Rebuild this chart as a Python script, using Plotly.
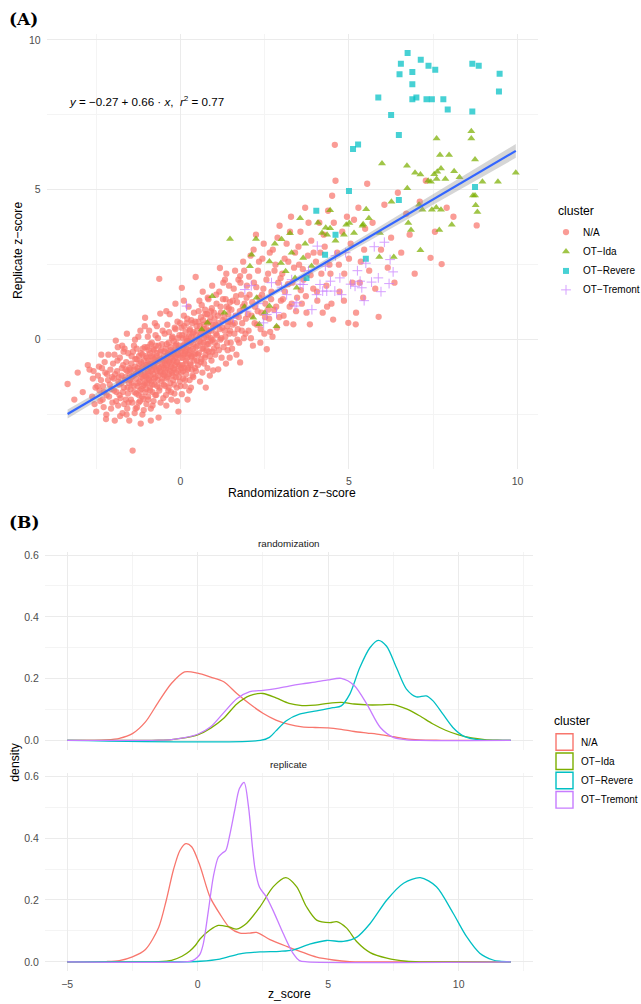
import numpy as np
import plotly.graph_objects as go

W, H = 641, 1004
def px(x): return x / W
def py(y): return 1 - y / H

FONT = "Liberation Sans"
clusters = ["N/A", "OT-Ida", "OT-Revere", "OT-Tremont"]
labels = ["N/A", "OT\u2212Ida", "OT\u2212Revere", "OT\u2212Tremont"]
colors = ["#F8766D", "#7CAE00", "#00BFC4", "#C77CFF"]
symbols = ["circle", "triangle-up", "square", "cross-thin"]

# ---------------- Panel A data (randomization z, replicate z) ----------------
na_points = [
    (-3.35,-1.48),(-3.05,-1.1),(-3.15,-2.0),
    (-2.75,-0.85),(-2.6,-1.3),(-2.9,-1.75),(-2.55,-2.15),(-2.7,-1.0),(-2.52,-1.6),
    (-2.45,-1.2),(-2.38,-2.05),(-2.3,-1.55),(-2.25,-0.75),(-2.2,-2.5),(-2.15,-1.35),(-2.12,-1.9),
    (-2.08,-1.0),(-2.4,-1.7),(-2.33,-0.95),(-2.05,-1.65),(-2.28,-2.25),(-2.18,-1.15),(-2.02,-2.1),
    (-1.98,-1.3),(-1.95,-2.7),(-1.92,-0.03),(-1.9,-1.75),(-1.88,-1.05),(-1.85,-2.2),(-1.82,-1.5),
    (-1.8,-0.6),(-1.78,-1.95),(-1.75,-1.2),(-1.72,-2.45),(-1.7,-0.85),(-1.68,-1.6),(-1.65,-1.35),
    (-1.62,-2.0),(-1.6,-2.5),(-1.59,0.2),(-1.58,-1.05),(-1.56,-1.8),(-1.55,-0.45),(-1.53,-1.45),
    (-1.52,-2.7),(-1.51,-1.15),(-1.66,-0.3),(-1.84,-1.4),
    (-1.49,-1.0),(-1.47,-2.0),(-1.45,-0.55),(-1.44,-1.45),(-1.42,-3.7),(-1.4,-1.2),(-1.38,-0.2),
    (-1.37,-1.75),(-1.35,-0.9),(-1.33,-2.3),(-1.32,-1.3),(-1.3,-0.65),(-1.29,-2.26),(-1.28,-1.55),
    (-1.26,-1.05),(-1.25,0.1),(-1.24,-1.85),(-1.22,-0.8),(-1.21,-1.4),(-1.2,-2.05),(-1.18,-0.45),
    (-1.17,-1.15),(-1.16,-1.65),(-1.15,-0.95),(-1.13,-2.5),(-1.12,-0.3),(-1.11,-1.3),(-1.1,-1.98),
    (-1.09,-0.7),(-1.08,-1.5),(-1.06,0.45),(-1.05,0.73),(-1.05,-1.1),(-1.04,-1.75),(-1.03,-0.55),
    (-1.02,-1.25),(-1.01,-2.15),(-1.0,-0.85),
    (-0.99,-1.45),(-0.98,-0.25),(-0.97,-1.05),(-0.96,-1.9),(-0.95,-0.7),(-0.94,-1.3),(-0.93,0.3),
    (-0.92,-0.95),(-0.91,-1.6),(-0.9,-0.45),(-0.89,-1.2),(-0.88,-2.3),(-0.87,-0.8),(-0.86,-1.4),
    (-0.85,-0.1),(-0.84,-1.0),(-0.83,-1.75),(-0.82,-0.6),(-0.81,-1.15),(-0.8,-2.05),(-0.79,-0.35),
    (-0.78,-0.9),(-0.77,-1.5),(-0.76,0.55),(-0.75,-0.75),(-0.74,-1.25),(-0.73,-0.2),(-0.72,-1.85),
    (-0.71,-0.55),(-0.7,-1.05),(-0.68,-1.35),(-0.67,0.05),(-0.66,-0.7),(-0.65,-2.6),(-0.64,-0.95),
    (-0.63,2.03),(-0.62,-1.6),(-0.61,-0.4),(-0.6,0.87),(-0.59,-1.1),(-0.58,-0.65),(-0.56,-1.4),
    (-0.55,-0.15),(-0.53,-0.85),(-0.51,-1.95),
    (-0.49,-0.55),(-0.48,-1.2),(-0.47,0.2),(-0.46,-0.8),(-0.45,-1.55),(-0.44,-0.3),(-0.43,-1.0),
    (-0.42,-2.2),(-0.41,-0.65),(-0.4,-1.3),(-0.39,0.5),(-0.38,-0.45),(-0.37,-0.95),(-0.36,-1.7),
    (-0.35,-0.1),(-0.34,-0.75),(-0.33,-1.15),(-0.32,0.85),(-0.31,-0.5),(-0.3,-1.45),(-0.29,-0.25),
    (-0.28,-0.9),(-0.27,-2.0),(-0.26,-0.6),(-0.25,-1.1),(-0.24,0.1),(-0.23,-0.4),(-0.22,-1.35),
    (-0.21,-0.7),(-0.2,-0.05),(-0.19,-1.0),(-0.18,-1.8),(-0.17,-0.35),(-0.16,-0.85),(-0.15,0.35),
    (-0.14,-1.25),(-0.13,-0.55),(-0.12,-0.15),(-0.11,-1.6),(-0.1,-0.75),(-0.09,0.6),(-0.08,-0.45),
    (-0.07,-1.05),(-0.06,-2.4),(-0.05,-0.2),(-0.04,-0.9),(-0.03,0.15),(-0.02,-1.4),
    (0.01,-0.6),(0.02,-1.1),(0.03,0.4),(0.04,-1.82),(0.04,1.73),(0.05,-0.3),(0.06,-0.85),(0.07,0.05),
    (0.08,-1.3),(0.09,-0.5),(0.1,0.8),(0.11,-0.15),(0.12,-0.95),(0.13,-1.55),(0.14,-0.4),(0.15,0.25),
    (0.16,-0.7),(0.17,-1.15),(0.18,0.55),(0.19,-0.05),(0.2,-0.6),(0.21,-2.0),(0.22,-0.25),(0.23,-0.95),
    (0.24,1.1),(0.25,0.1),(0.26,-0.45),(0.27,-1.35),(0.28,0.35),(0.29,-0.8),(0.3,-0.1),(0.31,-1.6),
    (0.32,0.65),(0.33,-0.55),(0.34,-1.0),(0.36,0.2),(0.37,-0.3),(0.38,-1.25),(0.4,0.9),(0.41,-0.7),
    (0.42,0.0),(0.44,-0.45),(0.45,2.09),(0.46,-1.05),(0.48,0.45),
    (0.51,-0.2),(0.52,-0.85),(0.53,0.6),(0.55,-0.45),(0.56,1.3),(0.57,0.1),(0.58,-1.4),(0.6,-0.1),
    (0.61,0.75),(0.62,-0.65),(0.64,0.3),(0.65,-1.1),(0.66,1.6),(0.68,-0.3),(0.69,0.5),(0.7,-0.8),
    (0.71,0.05),(0.73,1.0),(0.74,-0.5),(0.75,-1.6),(0.77,0.35),(0.78,-0.15),(0.79,0.85),(0.8,-0.95),
    (0.82,0.15),(0.83,1.35),(0.84,-0.4),(0.86,0.6),(0.87,-1.2),(0.88,-0.05),(0.9,0.95),(0.91,0.3),
    (0.92,-0.7),(0.94,1.8),(0.95,0.0),(0.96,0.5),(0.97,-1.03),(0.99,-0.3),
    (1.01,0.7),(1.03,-0.5),(1.05,0.2),(1.07,1.2),(1.09,-0.2),(1.12,-0.99),(1.13,0.55),(1.15,1.6),
    (1.17,2.39),(1.18,0.0),(1.2,0.9),(1.22,-0.6),(1.24,0.4),(1.26,1.35),(1.28,-0.25),(1.3,0.75),
    (1.32,2.0),(1.33,0.1),(1.35,-0.8),(1.37,1.1),(1.39,0.45),(1.4,-0.35),(1.42,0.85),(1.44,1.8),
    (1.45,0.2),(1.46,-0.6),(1.47,1.25),(1.48,0.6),(1.49,-0.1),(1.36,2.2),
    (1.51,1.0),(1.53,-0.3),(1.55,0.5),(1.58,1.7),(1.6,0.2),(1.62,2.3),(1.64,0.8),(1.66,-0.5),
    (1.68,1.25),(1.7,0.35),(1.72,2.0),(1.74,-0.1),(1.76,0.95),(1.77,2.12),(1.77,-0.76),(1.8,1.5),
    (1.83,0.55),(1.86,2.6),(1.88,0.05),(1.9,1.2),(1.94,0.7),(1.97,1.8),
    (2.02,0.3),(2.05,1.5),(2.08,2.8),(2.11,0.8),(2.15,-0.2),(2.18,1.9),(2.21,1.1),(2.24,3.5),
    (2.27,0.5),(2.3,2.3),(2.34,1.4),(2.37,-0.1),(2.4,0.9),(2.43,2.7),(2.46,1.7),(2.49,0.2),
    (2.52,1.2),(2.56,-0.32),(2.6,2.2),(2.63,0.7),(2.66,0.26),(2.7,1.6),(2.74,3.0),(2.78,1.0),
    (2.82,2.5),(2.86,0.4),(2.9,1.9),(2.94,3.8),(2.98,1.3),
    (3.02,2.2),(3.06,0.8),(3.1,1.6),(3.15,3.2),(3.2,2.6),(3.24,1.1),(3.28,4.1),(3.32,1.9),
    (3.35,0.51),(3.4,2.9),(3.46,1.4),
    (3.52,2.5),(3.56,3.6),(3.6,1.2),(3.65,2.0),(3.7,4.4),(3.74,0.9),(3.78,2.8),(3.84,0.51),
    (3.88,3.3),(3.94,1.7),
    (4.02,2.6),(4.06,1.3),(4.12,3.9),(4.18,2.2),(4.22,0.9),(4.28,3.1),(4.33,1.8),(4.38,4.3),
    (4.42,2.5),(4.48,1.2),
    (4.53,0.67),(4.5,4.8),(4.58,6.5),(4.6,5.3),(4.65,2.9),(4.72,1.6),(4.8,3.6),(4.86,2.2),
    (4.98,0.56),(4.94,4.1),
    (5.05,3.2),(5.1,1.9),(5.2,0.51),(5.21,0.9),(5.28,4.4),(5.35,2.6),(5.42,1.4),(5.48,3.7),
    (5.54,5.2),(5.6,2.3),(5.7,3.9),(5.78,1.7),(5.88,0.76),(5.95,3.0),
    (6.05,4.5),(6.15,2.4),(6.25,3.4),(6.35,1.9),(6.45,4.9),
    (6.55,2.9),(6.7,4.2),(6.8,3.5),(6.95,2.2),
    (7.1,4.6),(7.28,5.3),(7.42,2.73),
    (7.55,3.6),(7.75,2.52),(7.9,4.4),
    (8.1,4.1),(8.79,3.81),
    (-2.62,-1.9),(-2.58,-1.05),(-2.5,-2.4),(-2.47,-1.55),(-2.42,-0.9),(-2.36,-1.35),(-2.31,-2.0),
    (-2.27,-1.75),(-2.23,-1.1),(-2.19,-1.85),(-2.14,-0.5),(-2.1,-1.5),(-2.06,-2.3),(-2.03,-1.25),
    (-2.0,-0.8),(-1.97,-1.7),(-1.94,-1.15),(-1.91,-2.05),(-1.87,-0.7),(-1.83,-1.25),(-1.81,-1.85),
    (-1.79,-2.55),(-1.76,-1.45),(-1.74,-0.95),(-1.71,-1.75),(-1.69,-0.4),(-1.67,-2.15),(-1.64,-1.25),
    (-1.61,-0.75),(-1.57,-1.6),(-1.54,-2.1),(-1.52,-0.95),(-1.5,-1.35),(-1.86,-0.25),(-2.21,-2.65),
    (-1.73,-0.2),(-1.96,-0.5),(-2.35,-0.5),(-1.63,-1.0),(-1.58,-2.3),
    (-1.48,-1.65),(-1.46,-0.8),(-1.45,-1.25),(-1.43,-2.1),(-1.41,-0.4),(-1.39,-1.55),(-1.38,-1.0),
    (-1.36,-2.45),(-1.34,-0.65),(-1.33,-1.15),(-1.31,-1.8),(-1.3,-0.3),(-1.27,-0.95),(-1.26,-1.45),
    (-1.24,-2.1),(-1.23,-0.55),(-1.21,-1.05),(-1.2,-1.7),(-1.19,0.3),(-1.17,-0.75),(-1.16,-1.25),
    (-1.14,-1.9),(-1.13,-0.5),(-1.12,-1.55),(-1.1,-0.9),(-1.09,-2.35),(-1.07,-1.2),(-1.06,-0.25),
    (-1.04,-1.45),(-1.03,-0.85),(-1.01,-1.65),(-0.99,-0.6),(-0.98,-1.15),(-0.96,-2.0),(-0.95,-0.35),
    (-0.93,-1.35),(-0.92,-0.8),(-0.9,-1.7),(-0.89,-0.15),(-0.87,-1.05),(-0.86,-0.55),(-0.84,-1.5),
    (-0.83,-2.2),(-0.81,-0.85),(-0.8,-0.3),(-0.78,-1.3),(-0.77,-0.65),(-0.75,-1.85),(-0.74,0.15),
    (-0.72,-1.0),(-0.71,-0.45),(-0.69,-1.55),(-0.68,-0.85),(-0.66,-1.2),(-0.65,-0.2),(-0.63,-1.7),
    (-0.62,-0.6),(-0.6,-1.05),(-0.59,-2.1),(-0.57,-0.35),(-0.56,-0.9),(-0.54,-1.3),(-0.53,0.3),
    (-0.52,-0.7),(-0.51,-1.15),(-1.18,-2.8),(-0.97,0.1),(-0.7,0.45),(-1.35,0.0),(-0.88,-2.7),
    (-0.5,-0.95),(-0.49,-1.5),(-0.47,-0.4),(-0.46,-1.1),(-0.44,-0.7),(-0.43,-1.85),(-0.41,-0.15),
    (-0.4,-0.85),(-0.38,-1.25),(-0.37,-0.5),(-0.35,-1.6),(-0.34,0.25),(-0.32,-0.7),(-0.31,-1.05),
    (-0.29,-0.35),(-0.28,-1.75),(-0.26,-0.8),(-0.25,0.05),(-0.23,-1.2),(-0.22,-0.5),(-0.2,-0.95),
    (-0.19,-1.5),(-0.17,0.4),(-0.16,-0.6),(-0.14,-0.2),(-0.13,-1.1),(-0.11,-0.75),(-0.1,-2.05),
    (-0.08,0.05),(-0.07,-0.5),(-0.05,-1.25),(-0.04,-0.3),(-0.02,-0.85),(-0.01,0.55),(0.0,-1.55),
    (0.02,-0.4),(0.03,-0.95),(0.05,0.15),(0.06,-0.6),(0.08,-1.05),(0.09,-0.2),(0.11,0.45),
    (0.12,-0.45),(0.14,-1.35),(0.15,-0.8),(0.17,0.05),(0.18,-0.3),(0.2,0.7),(0.21,-1.0),(0.23,-0.5),
    (0.24,-0.05),(0.26,-1.7),(0.27,0.3),(0.29,-0.35),(0.3,-0.85),(0.32,0.1),(0.33,-0.6),(0.35,0.55),
    (0.36,-1.2),(0.38,-0.15),(0.39,0.25),(0.41,-0.5),(0.43,-0.95),(0.44,0.6),(0.46,-0.25),(0.47,0.15),
    (0.49,-0.7),(-0.15,1.2),(0.1,1.3),(-0.42,0.95),
    (0.5,0.3),(0.52,-0.5),(0.54,0.95),(0.56,-0.05),(0.58,0.45),(0.6,-0.75),(0.62,0.2),(0.63,1.15),
    (0.65,-0.3),(0.67,0.65),(0.69,-0.1),(0.7,0.35),(0.72,-0.6),(0.74,0.85),(0.76,0.1),(0.78,-0.35),
    (0.8,0.55),(0.81,1.4),(0.83,-0.15),(0.85,0.3),(0.87,-0.55),(0.89,0.75),(0.91,0.05),(0.93,1.05),
    (0.95,-0.4),(0.97,0.4),(0.99,0.9),(1.02,-0.1),(1.04,0.5),(1.06,1.5),(1.08,0.15),(1.11,0.8),
    (1.14,-0.35),(1.16,0.35),(1.19,1.1),(1.21,0.05),(1.25,0.65),(1.27,1.9),(1.31,0.3),(1.34,1.35),
    (1.38,-0.1),(1.41,0.6),(1.43,1.05),(1.47,0.3),(1.55,1.3),
    (1.61,0.55),(1.65,1.45),(1.69,0.0),(1.73,0.75),(1.78,1.9),(1.82,0.3),(1.85,1.1),(1.89,2.3),
    (1.93,0.2),(1.96,1.4),(2.0,0.85),(2.04,2.1),(2.09,0.05),(2.13,1.25),(2.17,3.0),(2.2,0.55),
    (2.25,1.75),(2.29,0.95),(2.33,2.6),(2.38,0.35),(2.42,1.5),(2.47,3.2),(2.51,0.75),(2.55,2.0),
    (2.6,1.0),(2.65,2.9),(2.69,1.35),(2.73,0.1),(2.79,2.3),(2.84,1.1),(2.88,3.4),(2.93,0.75),
    (2.97,2.05),(3.04,1.35),(3.09,2.7),(3.14,0.55),(3.19,1.85),(3.25,3.6),(3.3,1.2),(3.37,2.4),
    (3.43,0.95),(3.5,3.1),(3.57,1.65),(3.63,2.35),(3.72,1.45),(3.8,3.9),(3.86,2.15),(3.95,2.9),
    (4.05,1.6),(4.15,2.9),(4.25,3.5),(4.35,1.1),(4.45,2.2),(4.55,3.9),(4.7,2.5),(4.85,1.3),
    (5.0,2.7),(5.15,4.0),(5.32,1.9),(5.45,3.0),
]

ida_points = [
    (0.63,0.34),(0.8,0.56),(0.94,1.45),(1.3,0.9),(2.16,0.73),(2.26,1.4),(2.34,0.51),(2.64,1.12),
    (2.85,0.45),(1.9,1.1),(2.5,0.9),
    (1.47,3.36),(2.06,2.45),(2.11,2.83),(2.24,3.36),(2.64,2.61),(2.98,2.56),(3.12,2.28),(3.25,3.55),
    (3.4,2.06),(3.45,1.73),(3.55,4.05),(3.64,2.72),(3.89,2.46),(4.08,3.9),(4.2,3.56),(4.31,3.73),
    (4.35,3.5),(4.44,3.72),(4.85,3.5),(4.92,3.83),(5.01,3.89),(5.15,3.56),(5.4,3.8),(5.42,3.85),
    (5.51,4.35),(5.59,4.05),(5.92,3.56),(5.9,2.76),(6.33,2.76),(6.76,3.89),(6.84,3.66),(7.12,2.98),
    (7.68,3.66),(8.05,3.83),(2.8,3.2),(3.0,3.35),(3.7,3.2),(4.6,3.3),(3.3,2.9),
    (4.44,4.32),(5.98,5.88),(6.26,4.6),(6.72,5.8),(6.73,5.05),(6.96,5.57),(7.08,4.5),(7.12,5.51),
    (7.18,4.33),(7.35,5.3),(7.43,5.27),(7.46,4.33),(7.53,5.52),(7.59,4.41),(7.6,5.36),(7.6,6.71),
    (7.62,5.6),(7.7,6.16),(7.73,5.71),(7.73,4.33),(7.86,5.36),(7.97,6.16),(8.12,5.62),(8.28,5.42),
    (8.63,6.95),(8.63,6.71),(8.68,4.81),(8.74,6.01),(8.74,4.81),(8.76,4.48),(8.81,4.26),(8.96,5.27),
    (9.42,5.27),(9.95,5.57),
]

revere_points = [
    (6.74,9.56),(6.54,9.2),(7.13,9.34),(7.36,9.14),(7.56,9.0),(6.5,8.85),(6.88,8.93),(6.88,8.52),
    (8.66,9.2),(8.85,9.14),(9.47,8.87),(9.45,8.28),(5.87,8.08),(6.88,8.02),(7.0,8.08),(7.3,8.02),
    (7.46,8.02),(7.8,8.02),(7.93,7.68),(6.25,7.49),(8.66,7.61),(6.48,6.83),(5.12,6.36),(5.27,6.51),
    (5.0,4.96),(8.74,5.09),(6.48,4.66),(4.29,2.83),(3.74,2.06),(4.03,4.3),(4.6,3.5),(5.5,2.7),
]

tremont_points = [
    (0.18,1.12),(1.57,0.73),(1.91,1.67),(1.96,0.95),(2.1,1.8),(2.3,1.2),(2.46,0.56),(2.56,0.84),
    (2.7,1.9),(2.85,0.9),(3.0,1.75),(3.15,1.5),(3.3,2.0),(3.4,1.12),(3.45,1.23),(3.55,1.85),
    (3.64,1.84),(3.8,2.3),(3.9,1.0),(4.04,1.5),(4.14,1.84),(4.22,1.62),(4.3,2.45),(4.34,1.62),
    (4.45,1.95),(4.58,1.62),(4.73,2.06),(4.78,1.5),(4.9,2.9),(5.05,1.85),(5.18,1.78),(5.25,2.3),
    (5.33,1.95),(5.38,1.73),(5.5,2.55),(5.67,1.92),(5.75,3.1),(5.87,2.06),(5.95,1.6),(6.05,3.25),
    (6.19,1.87),(6.22,2.67),(6.31,2.26),(4.06,3.12),(4.6,2.8),(5.45,1.3),
]

reg_intercept = -0.27
reg_slope = 0.66
reg_r2 = 0.77

# ---------------- Panel B data: density curves ----------------
rand_density = {
    "N/A": [(-5,0),(-4.5,0),(-4,0.0005),(-3.5,0.002),(-3,0.007),(-2.5,0.022),(-2,0.06),(-1.5,0.125),
            (-1,0.185),(-0.5,0.222),(0,0.218),(0.5,0.205),(1,0.19),(1.5,0.152),(2,0.118),(2.5,0.088),
            (3,0.066),(3.5,0.052),(4,0.044),(4.5,0.042),(5,0.041),(5.5,0.036),(6,0.029),(6.5,0.024),
            (7,0.019),(7.5,0.012),(8,0.005),(8.5,0.002),(9,0.001),(9.5,0),(12,0)],
    "OT-Ida": [(-5,0),(-2,0),(-1.5,0.001),(-1,0.003),(-0.5,0.008),(0,0.018),(0.5,0.04),(1,0.072),
               (1.5,0.118),(2,0.145),(2.5,0.152),(3,0.138),(3.5,0.12),(4,0.113),(4.5,0.114),(5,0.12),
               (5.5,0.123),(6,0.118),(6.5,0.115),(7,0.115),(7.5,0.116),(8,0.102),(8.5,0.08),(9,0.054),
               (9.5,0.033),(10,0.018),(10.5,0.008),(11,0.003),(11.5,0.001),(12,0)],
    "OT-Revere": [(-5,0),(2.4,0),(2.75,0.01),(3.0,0.031),(3.4,0.064),(3.9,0.085),(4.56,0.096),
                  (5.19,0.106),(5.5,0.112),(5.83,0.15),(6.21,0.235),(6.6,0.3),(6.92,0.324),
                  (7.24,0.305),(7.62,0.235),(8.0,0.166),(8.38,0.141),(8.76,0.144),(9.02,0.128),
                  (9.4,0.085),(9.78,0.042),(10.17,0.015),(10.55,0.005),(10.93,0.001),(12,0)],
    "OT-Tremont": [(-5,0),(-2,0),(-1.5,0.001),(-1,0.003),(-0.5,0.009),(0,0.02),(0.5,0.044),(1,0.09),
                   (1.5,0.135),(2,0.158),(2.5,0.162),(3,0.168),(3.5,0.176),(4,0.183),(4.5,0.189),
                   (5,0.196),(5.5,0.201),(6,0.178),(6.5,0.115),(7,0.042),(7.5,0.01),(8,0.002),
                   (8.5,0),(12,0)],
}
rep_density = {
    "N/A": [(-5,0),(-3.5,0.001),(-3,0.004),(-2.5,0.016),(-2,0.04),(-1.5,0.11),(-1.2,0.2),(-0.93,0.297),
            (-0.68,0.36),(-0.45,0.382),(-0.23,0.372),(0.09,0.31),(0.47,0.21),(0.85,0.155),(1.23,0.11),
            (1.62,0.093),(2.0,0.093),(2.26,0.095),(2.77,0.072),(3.41,0.05),(3.92,0.034),(4.56,0.015),
            (5.2,0.006),(5.83,0.001),(6.5,0),(12,0)],
    "OT-Ida": [(-5,0),(-1.5,0.001),(-1.0,0.005),(-0.6,0.018),(-0.3,0.035),(-0.1,0.052),(0.09,0.074),
               (0.47,0.103),(0.79,0.118),(1.23,0.112),(1.49,0.106),(1.88,0.125),(2.39,0.178),
               (2.9,0.243),(3.38,0.272),(3.79,0.243),(4.17,0.178),(4.56,0.135),(5.07,0.127),
               (5.33,0.13),(5.71,0.109),(6.1,0.065),(6.61,0.03),(7.25,0.012),(8.0,0.002),(8.5,0),(12,0)],
    "OT-Revere": [(-5,0),(-0.5,0),(0.09,0.002),(0.85,0.009),(1.62,0.026),(2.39,0.032),(3.15,0.034),
                  (3.65,0.038),(4.29,0.057),(4.94,0.069),(5.58,0.066),(6.1,0.08),(6.61,0.124),
                  (7.25,0.2),(7.89,0.254),(8.53,0.272),(9.15,0.243),(9.79,0.157),(10.3,0.082),
                  (10.81,0.028),(11.32,0.006),(11.57,0.002),(12,0)],
    "OT-Tremont": [(-5,0),(-0.5,0),(-0.2,0.004),(0.0,0.016),(0.09,0.025),(0.22,0.06),(0.41,0.165),
                   (0.6,0.275),(0.79,0.338),(0.95,0.352),(1.08,0.36),(1.23,0.41),(1.42,0.49),
                   (1.6,0.56),(1.78,0.58),(1.95,0.5),(2.1,0.37),(2.2,0.3),(2.37,0.241),(2.63,0.21),
                   (2.88,0.168),(3.27,0.093),(3.65,0.028),(3.9,0.004),(4.2,0),(12,0)],
}

point_sets = {"N/A": na_points, "OT-Ida": ida_points, "OT-Revere": revere_points, "OT-Tremont": tremont_points}
marker_sizes = [6.3, 7, 6, 7]

fig = go.Figure()

for c, col, sym, ms in zip(clusters, colors, symbols, marker_sizes):
    pts = np.array(point_sets[c])
    mk = dict(symbol=sym, size=ms, color=col, opacity=0.72)
    if sym == "cross-thin":
        mk["line"] = dict(color=col, width=1)
    else:
        mk["line"] = dict(width=0)
    fig.add_trace(go.Scatter(x=pts[:, 0], y=pts[:, 1], mode="markers", marker=mk,
                             xaxis="x", yaxis="y", showlegend=False, hoverinfo="skip"))

# regression line (printed coefficients) with 95% band from the residuals
all_pts = np.vstack([np.array(point_sets[c]) for c in clusters])
ax, ay = all_pts[:, 0], all_pts[:, 1]
n = len(ax)
resid = ay - (reg_intercept + reg_slope * ax)
s = np.sqrt(np.sum(resid ** 2) / (n - 2))
xbar = ax.mean()
sxx = np.sum((ax - xbar) ** 2)
xs = np.linspace(ax.min(), ax.max(), 80)
fit = reg_intercept + reg_slope * xs
half = 1.96 * s * np.sqrt(1.0 / n + (xs - xbar) ** 2 / sxx)
fig.add_trace(go.Scatter(x=xs, y=fit - half, mode="lines", line=dict(width=0), xaxis="x", yaxis="y",
                         showlegend=False, hoverinfo="skip"))
fig.add_trace(go.Scatter(x=xs, y=fit + half, mode="lines", line=dict(width=0), fill="tonexty",
                         fillcolor="rgba(153,153,153,0.4)", xaxis="x", yaxis="y",
                         showlegend=False, hoverinfo="skip"))
fig.add_trace(go.Scatter(x=xs, y=fit, mode="lines", line=dict(color="#3366FF", width=2.2),
                         xaxis="x", yaxis="y", showlegend=False, hoverinfo="skip"))

for c, col in zip(clusters, colors):
    for dens, xa, ya in ((rand_density, "x2", "y2"), (rep_density, "x3", "y3")):
        arr = np.array(dens[c])
        fig.add_trace(go.Scatter(x=arr[:, 0], y=arr[:, 1], mode="lines",
                                 line=dict(color=col, width=1.3, shape="spline", smoothing=0.8),
                                 xaxis=xa, yaxis=ya, showlegend=False, hoverinfo="skip"))

# legend A keys (pixel overlay axis)
legA_y = [229, 248.5, 268, 287]
for col, sym, ms, yy in zip(colors, symbols, marker_sizes, legA_y):
    mk = dict(symbol=sym, size=ms, color=col, opacity=0.72)
    if sym == "cross-thin":
        mk["line"] = dict(color=col, width=1)
    fig.add_trace(go.Scatter(x=[566], y=[yy], mode="markers", marker=mk, xaxis="x4", yaxis="y4",
                             showlegend=False, hoverinfo="skip"))

grid = "#EBEBEB"
minor_grid = "#F4F4F4"
tickfont = dict(family=FONT, size=10.5, color="#4D4D4D")
common = dict(showgrid=True, gridcolor=grid, gridwidth=1, zeroline=False, showline=False,
              ticks="outside", ticklen=3, tickcolor="rgba(0,0,0,0)", tickfont=tickfont)

fig.update_layout(
    width=W, height=H, autosize=False,
    margin=dict(l=0, r=0, t=0, b=0),
    paper_bgcolor="white", plot_bgcolor="rgba(0,0,0,0)",
    font=dict(family=FONT),
    xaxis=dict(domain=[px(46.7), px(537.7)], range=[-3.97, 10.6], anchor="y", tick0=0, dtick=5,
               minor=dict(dtick=2.5, showgrid=True, gridcolor=minor_grid, gridwidth=0.7), **common),
    yaxis=dict(domain=[py(466.7), py(30)], range=[-4.31, 10.2], anchor="x", tick0=0, dtick=5,
               minor=dict(dtick=2.5, showgrid=True, gridcolor=minor_grid, gridwidth=0.7), **common),
    xaxis2=dict(domain=[px(45), px(533)], range=[-5.85, 12.85], anchor="y2", tick0=0, dtick=5,
                showticklabels=False,
                minor=dict(dtick=2.5, showgrid=True, gridcolor=minor_grid, gridwidth=0.7), **common),
    yaxis2=dict(domain=[py(748.7), py(550.5)], range=[-0.03, 0.609], anchor="x2", tick0=0, dtick=0.2,
                tickformat=".1f",
                minor=dict(dtick=0.1, showgrid=True, gridcolor=minor_grid, gridwidth=0.7), **common),
    xaxis3=dict(domain=[px(45), px(533)], range=[-5.85, 12.85], anchor="y3", tick0=0, dtick=5,
                minor=dict(dtick=2.5, showgrid=True, gridcolor=minor_grid, gridwidth=0.7), **common),
    yaxis3=dict(domain=[py(971), py(772.5)], range=[-0.03, 0.609], anchor="x3", tick0=0, dtick=0.2,
                tickformat=".1f",
                minor=dict(dtick=0.1, showgrid=True, gridcolor=minor_grid, gridwidth=0.7), **common),
    xaxis4=dict(domain=[0, 1], range=[0, W], anchor="y4", visible=False, fixedrange=True),
    yaxis4=dict(domain=[0, 1], range=[H, 0], anchor="x4", visible=False, fixedrange=True),
)

ann = []
def text(x, y, t, size=11, color="black", anchor="center", angle=0, family=FONT, xref="paper", yref="paper"):
    ann.append(dict(x=x, y=y, xref=xref, yref=yref, text=t, showarrow=False, xanchor=anchor,
                    yanchor="middle", textangle=angle, font=dict(family=family, size=size, color=color)))

TITLE = 12.2
text(px(7), py(15), "<b>(A)</b>", size=17, anchor="left", family="DejaVu Serif")
text(px(7), py(520), "<b>(B)</b>", size=17, anchor="left", family="DejaVu Serif")
eq = ("<i>y</i> = \u22120.27 + 0.66 \u00b7 <i>x</i>,  <i>r</i><sup>2</sup> = %.2f" % reg_r2)
text(-3.37, 7.97, eq, size=11.6, anchor="left", xref="x", yref="y")
text(px(18), py(248), "Replicate z\u2212score", size=TITLE, angle=-90)
text(px(292), py(491), "Randomization z\u2212score", size=TITLE)
text(px(15), py(760.7), "density", size=TITLE, angle=-90)
text(px(289), py(994), "z_score", size=TITLE)
text(px(289), py(542), "randomization", size=9.8, color="#1A1A1A")
text(px(289), py(764), "replicate", size=9.8, color="#1A1A1A")

text(px(556), py(208), "cluster", size=TITLE, anchor="left")
for lab, yy in zip(labels, legA_y):
    text(px(581), py(yy), lab, size=10, anchor="left")

text(px(552), py(720), "cluster", size=TITLE, anchor="left")
legB_y = [741, 760.3, 779.6, 799]
shapes = []
for lab, col, yy in zip(labels, colors, legB_y):
    shapes.append(dict(type="rect", xref="paper", yref="paper", x0=px(556), x1=px(573),
                       y0=py(yy + 8.3), y1=py(yy - 8.3), line=dict(color=col, width=1.4),
                       fillcolor="white"))
    text(px(579), py(yy), lab, size=10, anchor="left")

fig.update_layout(annotations=ann, shapes=shapes)
fig.write_html("out.html", config={"displayModeBar": False},
               post_script="document.body.style.margin='0';document.body.style.overflow='hidden';")
